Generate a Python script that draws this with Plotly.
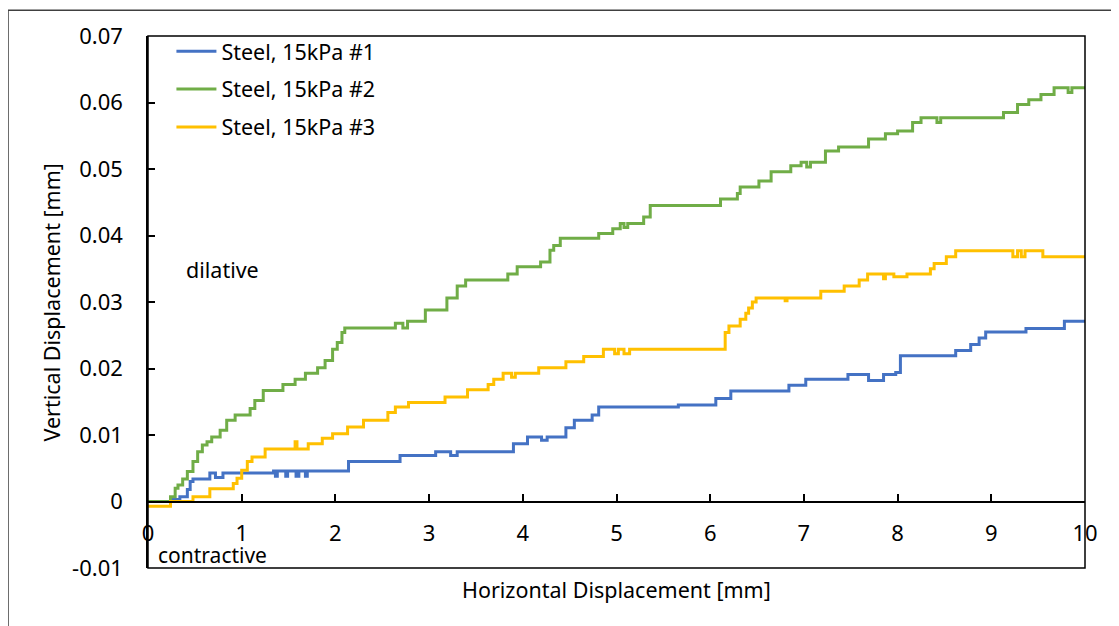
import plotly.graph_objects as go

# ---------------- data ----------------
series_names = ["Steel, 15kPa #1", "Steel, 15kPa #2", "Steel, 15kPa #3"]
series_colors = ["#4472C4", "#70AD47", "#FFC000"]

x_tick_vals = [0, 1, 2, 3, 4, 5, 6, 7, 8, 9, 10]
x_tick_text = ["0", "1", "2", "3", "4", "5", "6", "7", "8", "9", "10"]
y_tick_vals = [-0.01, 0, 0.01, 0.02, 0.03, 0.04, 0.05, 0.06, 0.07]
y_tick_text = ["-0.01", "0", "0.01", "0.02", "0.03", "0.04", "0.05", "0.06", "0.07"]

s1_x = [0, 0.26, 0.34, 0.42, 0.45, 0.48, 0.66, 0.72, 0.80, 1.34, 1.36, 1.38, 1.47, 1.49,
        1.58, 1.61, 1.68, 1.70, 2.14, 2.69, 3.07, 3.23, 3.30, 3.90, 4.05, 4.20, 4.26,
        4.46, 4.55, 4.74, 4.81, 5.66, 6.06, 6.22, 6.84, 7.02, 7.47, 7.69, 7.85, 7.98,
        8.03, 8.62, 8.78, 8.87, 8.94, 9.37, 9.78, 10]
s1_y = [0.0, 0.0003, 0.0007, 0.0018, 0.003, 0.0034, 0.0043, 0.0036, 0.0043, 0.0046, 0.0038,
        0.0046, 0.0038, 0.0046, 0.0038, 0.0046, 0.0038, 0.0046, 0.006, 0.0069, 0.0075,
        0.0069, 0.0075, 0.0087, 0.0097, 0.0092, 0.0097, 0.0111, 0.0122, 0.013, 0.0142,
        0.0145, 0.0155, 0.0166, 0.0175, 0.0184, 0.0191, 0.0182, 0.0191, 0.0194, 0.0219,
        0.0227, 0.0236, 0.0246, 0.0255, 0.026, 0.0271, 0.0271]

s2_x = [0, 0.24, 0.29, 0.32, 0.37, 0.42, 0.48, 0.53, 0.58, 0.63, 0.68, 0.77, 0.84, 0.93,
        1.09, 1.14, 1.23, 1.44, 1.57, 1.68, 1.81, 1.89, 1.97, 2.02, 2.07, 2.10, 2.64,
        2.72, 2.77, 2.96, 3.19, 3.30, 3.39, 3.84, 3.94, 4.19, 4.29, 4.33, 4.40, 4.81,
        4.96, 5.04, 5.08, 5.12, 5.29, 5.36, 6.11, 6.29, 6.32, 6.52, 6.65, 6.86, 6.97,
        7.03, 7.07, 7.23, 7.37, 7.69, 7.87, 8.00, 8.16, 8.25, 8.42, 8.46, 9.13, 9.28,
        9.40, 9.53, 9.67, 9.82, 9.86, 10]
s2_y = [0.0, 0.0007, 0.002, 0.0025, 0.0034, 0.0045, 0.006, 0.0075, 0.0085, 0.009, 0.0097,
        0.0107, 0.0122, 0.013, 0.014, 0.0152, 0.0167, 0.0176, 0.0184, 0.0193, 0.0201,
        0.0212, 0.0229, 0.0239, 0.0254, 0.0261, 0.0268, 0.0261, 0.0271, 0.0288, 0.0306,
        0.0324, 0.0333, 0.0342, 0.0353, 0.036, 0.0378, 0.0385, 0.0396, 0.0403, 0.041,
        0.0418, 0.0412, 0.0418, 0.0428, 0.0445, 0.0455, 0.0463, 0.0473, 0.0482, 0.0496,
        0.0505, 0.051, 0.0503, 0.051, 0.0527, 0.0533, 0.0545, 0.0553, 0.0557, 0.057,
        0.0577, 0.057, 0.0577, 0.0585, 0.0597, 0.0604, 0.0612, 0.0622, 0.0615, 0.0622,
        0.0622]

s3_x = [0, 0.24, 0.48, 0.66, 0.91, 0.95, 1.00, 1.06, 1.11, 1.25, 1.57, 1.59, 1.71, 1.86,
        1.97, 2.13, 2.30, 2.56, 2.64, 2.78, 3.17, 3.41, 3.63, 3.69, 3.79, 3.88, 3.92,
        4.17, 4.46, 4.65, 4.86, 4.98, 5.02, 5.08, 5.14, 6.16, 6.20, 6.32, 6.38, 6.41,
        6.45, 6.49, 6.80, 6.82, 7.18, 7.43, 7.59, 7.68, 7.85, 7.87, 7.96, 8.10, 8.35,
        8.39, 8.52, 8.62, 9.23, 9.28, 9.32, 9.36, 9.55, 10]
s3_y = [-0.0007, 0.0, 0.0007, 0.0019, 0.0027, 0.0035, 0.0047, 0.006, 0.0067, 0.0079, 0.009,
        0.0079, 0.0087, 0.0095, 0.0102, 0.0112, 0.0122, 0.0134, 0.0142, 0.0149, 0.0157,
        0.0168, 0.0176, 0.0184, 0.0193, 0.0187, 0.0193, 0.0201, 0.021, 0.0218, 0.0229,
        0.0222, 0.0229, 0.0222, 0.0229, 0.0254, 0.0264, 0.0274, 0.0283, 0.0291, 0.03,
        0.0306, 0.0302, 0.0306, 0.0316, 0.0324, 0.0333, 0.0342, 0.0335, 0.0342, 0.0338,
        0.0342, 0.035, 0.0358, 0.0368, 0.0377, 0.0368, 0.0377, 0.0368, 0.0377, 0.0368,
        0.0368]

x_title = "Horizontal Displacement [mm]"
y_title = "Vertical Displacement [mm]"
label_dilative = "dilative"
label_contractive = "contractive"

# ---------------- figure ----------------
FONT = "Noto Sans"
fig = go.Figure()
for name, color, xs, ys in zip(series_names, series_colors,
                                [s1_x, s2_x, s3_x], [s1_y, s2_y, s3_y]):
    fig.add_trace(go.Scatter(
        x=xs, y=ys, name=name, mode="lines",
        line=dict(color=color, width=3, shape="hv"),
        legendgroup=name,
    ))

fig.update_layout(
    width=1119, height=626,
    margin=dict(l=140, r=42, t=23, b=66),
    paper_bgcolor="white", plot_bgcolor="white",
    font=dict(family=FONT, size=20, color="black"),
    showlegend=True,
    legend=dict(
        x=0.025, y=1.01, xanchor="left", yanchor="top",
        bgcolor="rgba(255,255,255,0)", tracegroupgap=7,
        font=dict(family=FONT, size=21.5, color="black"),
        itemwidth=40,
    ),
    xaxis=dict(
        range=[0, 10], tickvals=x_tick_vals, ticktext=x_tick_text,
        anchor="free", position=0.125,
        showline=True, linecolor="black", linewidth=1.5,
        ticks="inside", ticklen=7, tickcolor="black", tickwidth=1.5,
        showgrid=False, zeroline=False,
        ticklabelstandoff=12,
        tickfont=dict(family=FONT, size=22, color="black"),
    ),
    yaxis=dict(
        range=[-0.01, 0.07], tickvals=y_tick_vals, ticktext=y_tick_text,
        showline=True, linecolor="black", linewidth=1.5,
        ticks="inside", ticklen=7, tickcolor="black", tickwidth=1.5,
        showgrid=False, zeroline=False,
        ticklabelstandoff=19,
        tickfont=dict(family=FONT, size=22, color="black"),
    ),
)

# plot area frame
fig.add_shape(type="rect", xref="paper", yref="paper", x0=0, x1=1, y0=0, y1=1,
              line=dict(color="black", width=1.5), layer="above")
# outer chart border (extends beyond the visible page on right/bottom)
fig.add_shape(type="rect", xref="paper", yref="paper", x0=-0.1494, x1=1.2, y0=-0.3, y1=1.0484,
              line=dict(color="#404040", width=1.5), layer="above")

fig.add_annotation(text=x_title, xref="paper", yref="paper", x=0.5, y=-0.04,
                   xanchor="center", yanchor="middle", showarrow=False,
                   font=dict(family=FONT, size=21.5, color="black"))
fig.add_annotation(text=y_title, xref="paper", yref="paper", x=-0.103, y=0.5,
                   xanchor="center", yanchor="middle", showarrow=False, textangle=-90,
                   font=dict(family=FONT, size=21.5, color="black"))
fig.add_annotation(text=label_dilative, xref="x", yref="y", x=0.38, y=0.0349,
                   xanchor="left", yanchor="middle", showarrow=False,
                   font=dict(family=FONT, size=21.5, color="black"))
fig.add_annotation(text=label_contractive, xref="x", yref="y", x=0.08, y=-0.0081,
                   xanchor="left", yanchor="middle", showarrow=False,
                   font=dict(family=FONT, size=21, color="black"))

fig.write_html("out.html")
